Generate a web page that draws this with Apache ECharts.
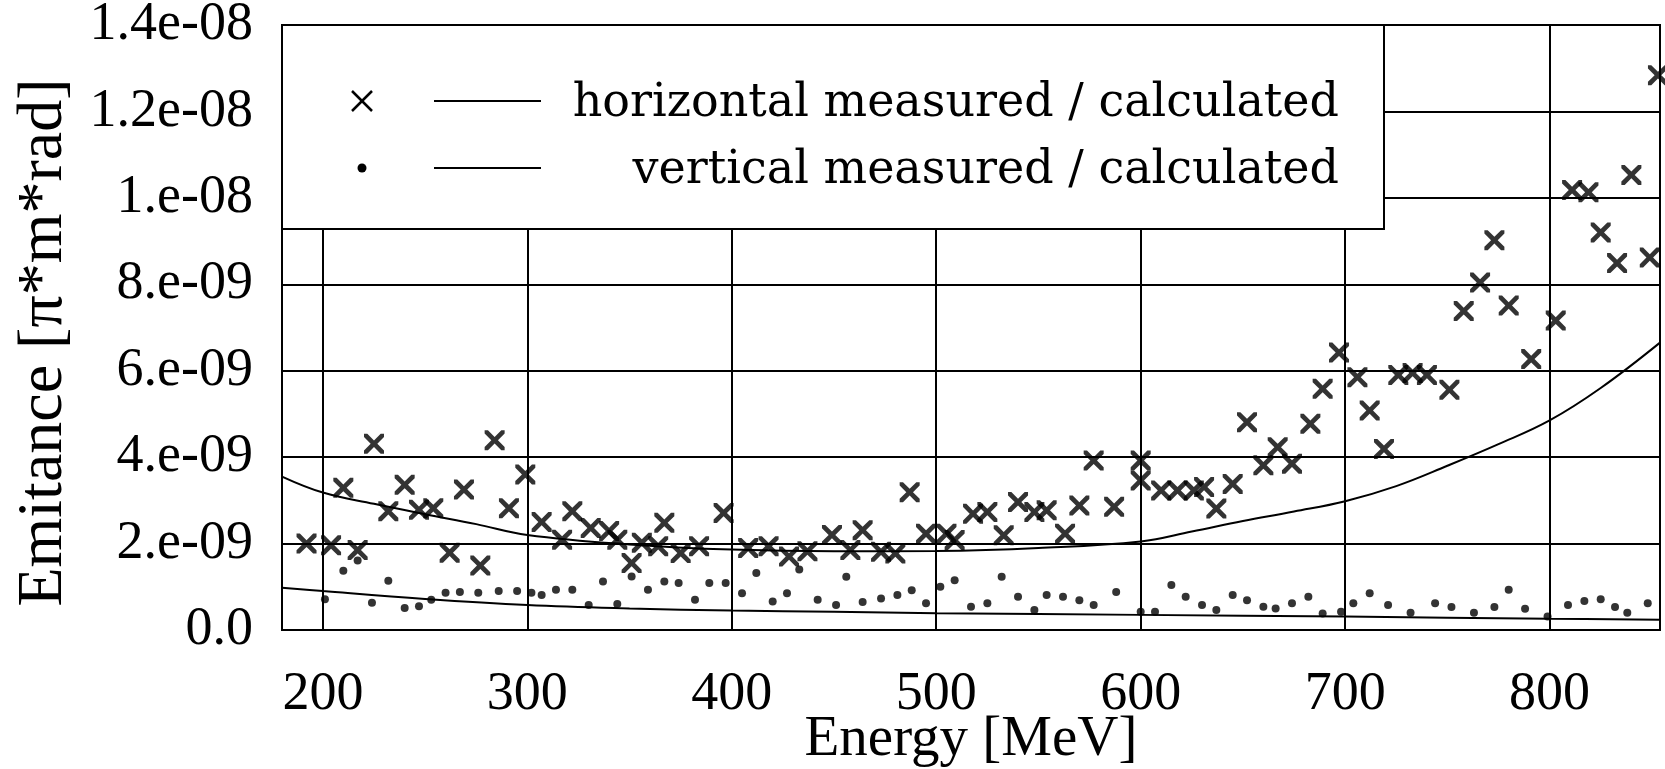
<!DOCTYPE html>
<html>
<head>
<meta charset="utf-8">
<script src="https://cdn.jsdelivr.net/npm/echarts@6/dist/echarts.min.js"></script>
<style>
html,body{margin:0;padding:0;background:#fff;}
#chart{width:1665px;height:769px;}
</style>
</head>
<body>
<div id="chart"></div>
<script>
// ---- axes (emittance in units of 1e-9 pi*m*rad) ----
const xTicks = [200, 300, 400, 500, 600, 700, 800];
const yTicks = [0, 2, 4, 6, 8, 10, 12, 14];
const yTickLabels = ['0.0', '2.e-09', '4.e-09', '6.e-09', '8.e-09', '1.e-08', '1.2e-08', '1.4e-08'];

// ---- horizontal measured ----
const hMeasEnergy = [192,204,210,217,225,232,240,247,254,262,269,277,284,291,299,
  307,317,322,331,340,344,351,356,364,367,375,384,396,
  408,418,428,437,449,458,464,473,480,487,495,
  505,509,518,525,533,540,548,554,563,570,577,587,
  600,600,610,618,626,631,637,645,652,660,667,674,683,689,697,
  706,712,719,726,733,740,751,758,766,773,780,791,803,811,819,825,833,840,849,853];
const hMeasEmit = [2.0,1.96,3.29,1.85,4.31,2.75,3.36,2.78,2.82,1.79,3.25,1.49,4.39,2.82,3.6,
  2.5,2.09,2.75,2.36,2.29,2.09,1.55,2.02,1.94,2.48,1.78,1.94,2.71,
  1.9,1.94,1.7,1.82,2.2,1.85,2.31,1.81,1.77,3.19,2.23,
  2.23,2.08,2.69,2.73,2.19,2.96,2.73,2.77,2.23,2.88,3.92,2.85,
  3.92,3.46,3.23,3.23,3.23,3.31,2.81,3.38,4.81,3.81,4.23,3.85,4.77,5.58,6.42,
  5.85,5.08,4.19,5.9,5.95,5.9,5.56,7.38,8.04,9.02,7.51,6.27,7.16,10.18,10.13,9.2,8.49,10.53,8.62,12.84];

// ---- vertical measured ----
const vMeasEnergy = [201,210,217,224,232,240,247,253,260,267,276,286,295,302,
  307,314,322,330,337,344,351,359,367,374,382,389,397,
  405,412,420,427,433,442,451,456,464,473,481,488,495,
  502,509,517,525,532,540,548,554,562,570,577,588,
  600,607,615,622,630,637,645,652,660,666,674,682,689,698,
  704,712,721,732,744,752,763,773,780,788,799,809,817,825,832,838,848];
const vMeasEmit = [0.71,1.37,1.61,0.63,1.14,0.51,0.55,0.7,0.86,0.88,0.86,0.9,0.9,0.86,
  0.81,0.93,0.93,0.58,1.12,0.6,1.24,0.93,1.12,1.09,0.7,1.09,1.09,
  0.85,1.32,0.66,0.85,1.4,0.7,0.58,1.23,0.65,0.73,0.81,0.92,0.62,
  1.0,1.15,0.54,0.62,1.23,0.77,0.46,0.81,0.77,0.69,0.58,0.88,
  0.42,0.42,1.04,0.77,0.58,0.46,0.81,0.69,0.54,0.5,0.62,0.77,0.38,0.42,
  0.62,0.85,0.58,0.4,0.62,0.53,0.4,0.53,0.93,0.49,0.31,0.58,0.67,0.71,0.53,0.4,0.62];

// ---- calculated curves ----
const hCalcEnergy = [180,200,225,250,275,300,350,400,450,500,550,600,625,650,675,700,725,750,775,800,825,854];
const hCalcEmit   = [3.55,3.18,2.92,2.68,2.45,2.2,1.98,1.86,1.82,1.83,1.9,2.05,2.28,2.52,2.74,2.98,3.33,3.8,4.3,4.85,5.6,6.65];
const vCalcEnergy = [180,200,250,300,350,400,450,500,600,700,800,854];
const vCalcEmit   = [0.98,0.9,0.72,0.58,0.5,0.45,0.42,0.39,0.35,0.31,0.26,0.24];

const zip = (a, b) => a.map((v, i) => [v, b[i]]);
const serif = "'Liberation Serif', 'Times New Roman', serif";
const crossPath = 'path://M0,0L4,0L12,8L20,0L24,0L24,4L16,12L24,20L24,24L20,24L12,16L4,24L0,24L0,20L8,12L0,4Z';

const chart = echarts.init(document.getElementById('chart'), null, {renderer: 'canvas'});
chart.setOption({
  animation: false,
  backgroundColor: '#fff',
  grid: {left: 282, right: 5, top: 25, bottom: 139, show: true, borderColor: '#000', borderWidth: 2,
         containLabel: false, outerBoundsMode: 'none'},
  xAxis: {
    type: 'value', min: 180, max: 854,
    name: 'Energy [MeV]', nameLocation: 'middle', nameGap: 82, nameMoveOverlap: false,
    nameTextStyle: {fontFamily: serif, fontSize: 57, color: '#000'},
    axisLine: {show: false}, axisTick: {show: false}, splitLine: {show: false},
    axisLabel: {customValues: xTicks, formatter: v => String(v), fontFamily: serif, fontSize: 54, color: '#000', margin: 38}
  },
  yAxis: {
    type: 'value', min: 0, max: 14, interval: 2,
    name: 'Emitance [\u03c0*m*rad]', nameLocation: 'middle', nameGap: 206,
    nameTextStyle: {fontFamily: serif, fontSize: 64, color: '#000', padding: [0, 30, 0, 0]},
    axisLine: {show: false}, axisTick: {show: false},
    splitLine: {show: true, lineStyle: {color: '#000', width: 2}},
    axisLabel: {formatter: v => yTickLabels[yTicks.indexOf(v)], fontFamily: serif, fontSize: 54, color: '#000', margin: 29}
  },
  series: [
    {
      type: 'line', name: 'horizontal calculated', data: zip(hCalcEnergy, hCalcEmit),
      smooth: 0.4, symbol: 'none', lineStyle: {color: '#000', width: 2}, z: 3,
      markLine: {
        silent: true, symbol: ['none', 'none'], label: {show: false},
        lineStyle: {color: '#000', width: 2, type: 'solid'},
        data: xTicks.map(v => ({xAxis: v}))
      }
    },
    {
      type: 'line', name: 'vertical calculated', data: zip(vCalcEnergy, vCalcEmit),
      smooth: 0.4, symbol: 'none', lineStyle: {color: '#000', width: 2}, z: 3
    },
    {
      type: 'scatter', name: 'horizontal measured', data: zip(hMeasEnergy, hMeasEmit),
      symbol: crossPath, symbolSize: 20, itemStyle: {color: '#000'}, z: 4
    },
    {
      type: 'scatter', name: 'vertical measured', data: zip(vMeasEnergy, vMeasEmit),
      symbol: 'circle', symbolSize: 8, itemStyle: {color: '#000'}, z: 4
    }
  ],
  graphic: [
    {type: 'rect', z: 100, shape: {x: 282, y: 25, width: 1102, height: 204},
     style: {fill: '#fff', stroke: '#000', lineWidth: 2}},
    {type: 'line', z: 101, shape: {x1: 352, y1: 91, x2: 372, y2: 111}, style: {stroke: '#000', lineWidth: 2.5}},
    {type: 'line', z: 101, shape: {x1: 352, y1: 111, x2: 372, y2: 91}, style: {stroke: '#000', lineWidth: 2.5}},
    {type: 'line', z: 101, shape: {x1: 434, y1: 101, x2: 541, y2: 101}, style: {stroke: '#000', lineWidth: 2}},
    {type: 'circle', z: 101, shape: {cx: 362, cy: 168, r: 4.5}, style: {fill: '#000'}},
    {type: 'line', z: 101, shape: {x1: 434, y1: 168, x2: 541, y2: 168}, style: {stroke: '#000', lineWidth: 2}},
    {type: 'text', z: 101, x: 1339, y: 104,
     style: {text: 'horizontal measured / calculated', fill: '#000', font: "46px 'DejaVu Serif', serif", align: 'right', verticalAlign: 'middle'}},
    {type: 'text', z: 101, x: 1339, y: 171,
     style: {text: 'vertical measured / calculated', fill: '#000', font: "46px 'DejaVu Serif', serif", align: 'right', verticalAlign: 'middle'}}
  ]
});
</script>
</body>
</html>
